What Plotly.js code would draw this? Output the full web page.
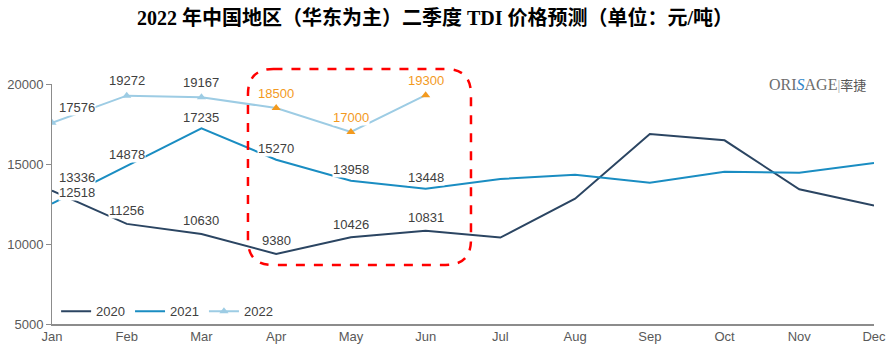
<!DOCTYPE html>
<html><head><meta charset="utf-8">
<script src="https://cdn.plot.ly/plotly-3.0.1.min.js"></script>
<style>html,body{margin:0;padding:0;background:#fff}#chart{width:891px;height:347px}</style>
</head><body><div id="chart"></div>
<script>
const months = ["Jan","Feb","Mar","Apr","May","Jun","Jul","Aug","Sep","Oct","Nov","Dec"];
const y2020 = [13336, 11256, 10630, 9380, 10426, 10831, 10400, 12830, 16880, 16480, 13420, 12400];
const y2021 = [12518, 14878, 17235, 15270, 13958, 13448, 14060, 14330, 13830, 14520, 14460, 15060];
const y2022 = [17576, 19272, 19167, 18500, 17000, 19300];
const labeled2020 = 6, labeled2021 = 6;
const forecastStart = 3; // 2022 Apr–Jun are forecasts
const seriesNames = ["2020","2021","2022"];

const cDark = "#2B4562", cMid = "#1A8DC2", cLight = "#9DCCE4", cOrange = "#F39A1E";

const traces = [
  {x: months, y: y2020, name: seriesNames[0], type: "scatter", mode: "lines",
   line: {color: cDark, width: 2}},
  {x: months, y: y2021, name: seriesNames[1], type: "scatter", mode: "lines",
   line: {color: cMid, width: 2}},
  {x: months.slice(0, y2022.length), y: y2022, name: seriesNames[2], type: "scatter", mode: "lines+markers",
   line: {color: cLight, width: 2},
   marker: {symbol: "triangle-up", size: 8,
     color: y2022.map((v, i) => i >= forecastStart ? cOrange : cLight)}}
];

const ann = [];
function addLabels(vals, n, shiftX0, yshift, colorFn) {
  for (let i = 0; i < n; i++) {
    ann.push({x: months[i], y: vals[i], xref: "x", yref: "y", text: String(vals[i]),
      showarrow: false, yshift: yshift, xshift: i === 0 ? shiftX0 : 0,
      bgcolor: "#ffffff", borderpad: 0,
      font: {family: "Liberation Sans, Arial", size: 13, color: colorFn(i)}});
  }
}
addLabels(y2020, labeled2020, 25, 13, () => "#404040");
addLabels(y2021, labeled2021, 25, 11, () => "#404040");
addLabels(y2022, y2022.length, 25, 15, i => i >= forecastStart ? cOrange : "#404040");

ann.push({xref: "paper", yref: "paper", x: 0.993, y: 1.0, xanchor: "right", yanchor: "middle",
  showarrow: false,
  text: 'ORI<span style="color:#2f86c8;font-style:italic">S</span>AGE<span style="color:#aaaaaa;font-size:14px">|</span><span style="color:#555555;font-family:Noto Sans CJK SC;font-size:13px">率捷</span>',
  font: {family: "Liberation Serif, serif", size: 16, color: "#6d6d6d"}});

// rounded dashed box (paper coords)
const x0 = 0.2384, x1 = 0.5097, yb = 0.2458, yt = 1.0625, rx = 0.031, ry = 0.105;
const boxPath = `M ${x0+rx},${yt} L ${x1-rx},${yt} Q ${x1},${yt} ${x1},${yt-ry} L ${x1},${yb+ry} Q ${x1},${yb} ${x1-rx},${yb} L ${x0+rx},${yb} Q ${x0},${yb} ${x0},${yb+ry} L ${x0},${yt-ry} Q ${x0},${yt} ${x0+rx},${yt} Z`;

const layout = {
  width: 891, height: 347,
  margin: {l: 52, r: 17, t: 84, b: 23},
  paper_bgcolor: "#ffffff", plot_bgcolor: "#ffffff",
  title: {text: "<b>2022 年中国地区（华东为主）二季度 TDI 价格预测（单位：元/吨）</b>",
    x: 435/891, xanchor: "center", y: 1 - 18/347, yanchor: "middle", yref: "container",
    font: {family: "Liberation Serif, Noto Sans CJK SC, serif", size: 20, color: "#000"}},
  xaxis: {type: "category", range: [0, 11], showgrid: false, zeroline: false,
    showline: true, linecolor: "#8c8c8c", linewidth: 1.5, ticks: "", ticklen: 0,
    tickfont: {family: "Liberation Sans, Arial", size: 13, color: "#595959"}},
  yaxis: {range: [5000, 20000], dtick: 5000, tick0: 5000, tickformat: "d", showgrid: false, zeroline: false,
    showline: true, linecolor: "#8c8c8c", linewidth: 1, ticks: "outside", ticklen: 5, tickcolor: "#8c8c8c",
    tickfont: {family: "Liberation Sans, Arial", size: 13, color: "#595959"}},
  showlegend: true,
  legend: {orientation: "h", x: 0.005, y: -0.01, xanchor: "left", yanchor: "bottom",
    bgcolor: "rgba(0,0,0,0)", font: {family: "Liberation Sans, Arial", size: 13, color: "#404040"}},
  annotations: ann,
  shapes: [{type: "path", xref: "paper", yref: "paper", path: boxPath,
    line: {color: "#ff0000", width: 2.5, dash: "dash"}, layer: "above"}]
};

Plotly.newPlot("chart", traces, layout, {displayModeBar: false, staticPlot: true});
</script></body></html>
